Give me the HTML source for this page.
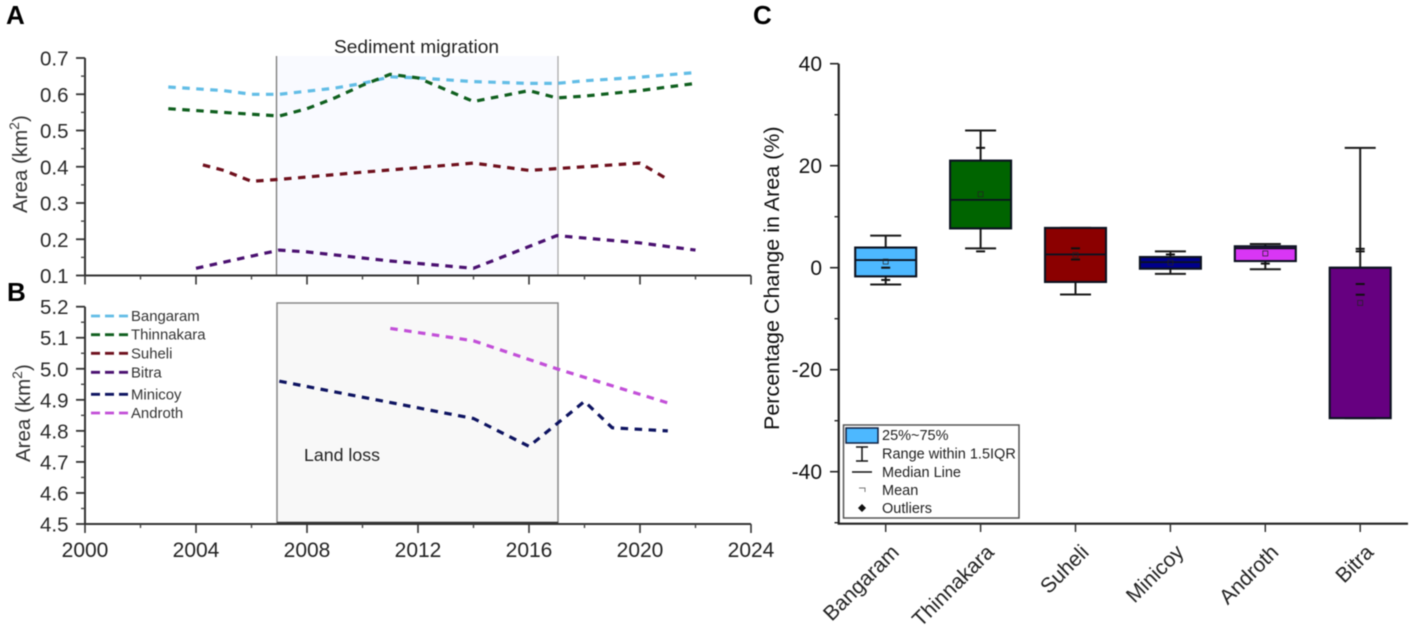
<!DOCTYPE html>
<html lang="en">
<head>
<meta charset="utf-8">
<title>Island area trends and percentage change</title>
<style>
html,body{margin:0;padding:0;background:#fff;width:1417px;height:634px;overflow:hidden}
svg{display:block;filter:blur(0.55px)}
text{font-family:"Liberation Sans",sans-serif}
</style>
</head>
<body>
<svg id="fig" xmlns="http://www.w3.org/2000/svg" width="1417" height="634" viewBox="0 0 1417 634">
  <rect x="277" y="56" width="281" height="219" fill="#f9faff"/>
  <rect x="277" y="303" width="281" height="220" fill="#f8f8f8" stroke="#888" stroke-width="1.5"/>
  <line x1="276.5" x2="276.5" y1="56" y2="275" stroke="#777" stroke-width="1.3"/>
  <line x1="558" x2="558" y1="56" y2="275" stroke="#aaa" stroke-width="1.3"/>
  <line x1="277" x2="558" y1="522.5" y2="522.5" stroke="#333" stroke-width="1.5"/>
  <text x="6" y="24" font-size="26" font-weight="700" fill="#000">A</text>
  <text x="7" y="301" font-size="26" font-weight="700" fill="#000">B</text>
  <text x="753" y="24" font-size="26" font-weight="700" fill="#000">C</text>
  <text x="334" y="53" font-size="18" textLength="165" lengthAdjust="spacingAndGlyphs" fill="#222">Sediment migration</text>
  <text x="304" y="461" font-size="17.5" textLength="76" lengthAdjust="spacingAndGlyphs" fill="#222">Land loss</text>
  <text transform="translate(27,213) rotate(-90)" font-size="20.5" fill="#333">Area (km<tspan dy="-8" font-size="14">2</tspan><tspan dy="8">)</tspan></text>
  <text transform="translate(30,462) rotate(-90)" font-size="20.5" fill="#333">Area (km<tspan dy="-8" font-size="14">2</tspan><tspan dy="8">)</tspan></text>
  <text transform="translate(779,430) rotate(-90)" font-size="21.5" fill="#111">Percentage Change in Area (%)</text>
  <g id="panelA"></g>
  <g id="panelB"></g>
  <g id="legendB"></g>
  <g id="panelC"></g>
  <g>
    <rect x="843.5" y="425" width="175.5" height="93" fill="#fff" stroke="#555" stroke-width="1.5"/>
    <rect x="846" y="428" width="32" height="15" fill="#4db8ff" stroke="#102040" stroke-width="1.5"/>
    <text x="882" y="440" font-size="14.5" fill="#222">25%~75%</text>
    <path d="M856 447H868M862 447V461M856 461H868" stroke="#111" stroke-width="1.5" fill="none"/>
    <text x="882" y="458.5" font-size="14.5" fill="#222">Range within 1.5IQR</text>
    <line x1="852" x2="872" y1="472" y2="472" stroke="#111" stroke-width="1.6"/>
    <text x="882" y="477" font-size="14.5" fill="#222">Median Line</text>
    <path d="M859 488H865V492" stroke="#777" stroke-width="1" fill="none"/>
    <text x="882" y="495" font-size="14.5" fill="#222">Mean</text>
    <path d="M862 504L866 508L862 512L858 508Z" fill="#111"/>
    <text x="882" y="513" font-size="14.5" fill="#222">Outliers</text>
  </g>
</svg>
<script>
// Panel A / B shared x axis
const xTickLabels = ['2000', '2004', '2008', '2012', '2016', '2020', '2024'];
const xMinorYears = [2002, 2006, 2010, 2014, 2018, 2022];

// Panel A
const aTickLabels = ['0.1', '0.2', '0.3', '0.4', '0.5', '0.6', '0.7'];
const bangaramYears = [2003, 2005, 2006, 2007, 2009, 2010, 2011, 2012, 2014, 2016, 2017, 2018, 2020, 2022];
const bangaramArea = [0.62, 0.61, 0.60, 0.60, 0.617, 0.63, 0.648, 0.645, 0.635, 0.63, 0.63, 0.637, 0.647, 0.66];
const thinnakaraYears = [2003, 2005, 2007, 2008, 2009, 2010, 2011, 2012, 2014, 2016, 2017, 2018, 2020, 2022];
const thinnakaraArea = [0.56, 0.55, 0.54, 0.56, 0.59, 0.625, 0.655, 0.645, 0.58, 0.61, 0.59, 0.595, 0.61, 0.63];
const suheliYears = [2004.25, 2005, 2006, 2007, 2010, 2014, 2016, 2017, 2020, 2021];
const suheliArea = [0.405, 0.39, 0.36, 0.365, 0.385, 0.41, 0.39, 0.395, 0.41, 0.365];
const bitraYears = [2004, 2007, 2008, 2011, 2014, 2015, 2016, 2017, 2020, 2022];
const bitraArea = [0.12, 0.17, 0.165, 0.14, 0.12, 0.15, 0.18, 0.21, 0.19, 0.17];

// Panel B
const bTickLabels = ['4.5', '4.6', '4.7', '4.8', '4.9', '5.0', '5.1', '5.2'];
const minicoyYears = [2007, 2014, 2016, 2018, 2019, 2021];
const minicoyArea = [4.96, 4.84, 4.75, 4.895, 4.81, 4.80];
const androthYears = [2011, 2014, 2017, 2021];
const androthArea = [5.13, 5.09, 5.00, 4.89];
const legendLabels = ['Bangaram', 'Thinnakara', 'Suheli', 'Bitra', 'Minicoy', 'Androth'];

// Panel C
const boxCategories = ['Bangaram', 'Thinnakara', 'Suheli', 'Minicoy', 'Androth', 'Bitra'];
const cTickLabels = ['-40', '-20', '0', '20', '40'];
const boxQ1 = [-1.7, 7.7, -2.8, -0.2, 1.3, -29.5];
const boxQ3 = [3.95, 21, 7.8, 2.1, 4.2, 0];
const boxMedian = [1.5, 13.3, 2.6, 1.1, 3.8, 0];
const whiskerLow = [-3.3, 3.8, -5.25, -1.2, -0.3, -29.5];
const whiskerHigh = [6.3, 26.9, 7.8, 3.2, 4.65, 23.5];
const boxMean = [1.2, 14.4, 2.5, 1.0, 2.8, -6.9];
const boxOutliers = [[0, -2.4], [23.5, 3.2], [3.8, 1.6], [2.6], [0.8], [3.7, 3.2, -3.2, -5.3]];

const SVGNS = 'http://www.w3.org/2000/svg';
const lineColors = ['#62bde6', '#0f5f1e', '#6e0f1c', '#4a1070', '#0d1360', '#c24fd8'];
const boxColors = ['#4db8ff', '#006400', '#8b0000', '#00008b', '#d936f5', '#660080'];

function mk(parent, tag, attrs, txt) {
  const el = document.createElementNS(SVGNS, tag);
  for (const k in attrs) el.setAttribute(k, attrs[k]);
  if (txt !== undefined) el.textContent = txt;
  parent.appendChild(el);
  return el;
}

const xScale = yr => 85 + (yr - 2000) * (751 - 85) / 24;
const yA = v => 275.5 - (v - 0.1) * (275.5 - 58) / 0.6;
const yB = v => 524 - (v - 4.5) * (524 - 306.7) / 0.7;
const yC = v => 267.7 - v * 5.1;
const xC = i => 885.7 + i * 94.9;

function drawLineAxes(g, yScale, labels, step, showXLabels, name) {
  const axisY = yScale(parseFloat(labels[0]));
  const topY = yScale(parseFloat(labels[labels.length - 1]));
  const axis = mk(g, 'path', {d: 'M85 ' + topY + 'V' + axisY + 'H' + xScale(2024), fill: 'none', stroke: '#333', 'stroke-width': 2});
  
  
  labels.forEach(function (lab, i) {
    const v = parseFloat(lab);
    const y = yScale(v);
    const t = mk(g, 'line', {x1: 76, x2: 85, y1: y, y2: y, stroke: '#333', 'stroke-width': 1.8});
    
    
    const tx = mk(g, 'text', {x: 68.5, y: y + 7.5, 'text-anchor': 'end', 'font-size': 20.5, fill: '#2a2a2a'}, lab);
    
    
    if (i < labels.length - 1) {
      const my = yScale(v + step / 2);
      const m = mk(g, 'line', {x1: 81, x2: 85, y1: my, y2: my, stroke: '#444', 'stroke-width': 1.4});
      
      
    }
  });
  xTickLabels.forEach(function (lab) {
    const x = xScale(parseFloat(lab));
    const t = mk(g, 'line', {x1: x, x2: x, y1: axisY, y2: axisY + 9, stroke: '#333', 'stroke-width': 1.6});
    
    
    if (showXLabels) {
      const tx = mk(g, 'text', {x: x, y: 557, 'text-anchor': 'middle', 'font-size': 21, fill: '#222'}, lab);
      
      
    }
  });
  xMinorYears.forEach(function (yr) {
    const x = xScale(yr);
    const m = mk(g, 'line', {x1: x, x2: x, y1: axisY, y2: axisY + 4, stroke: '#444', 'stroke-width': 1.4});
    
    
  });
}

function drawSeries(g, years, values, yScale, color, name) {
  const pts = years.map(function (yr, i) { return xScale(yr).toFixed(1) + ',' + yScale(values[i]).toFixed(1); }).join(' ');
  const p = mk(g, 'polyline', {points: pts, fill: 'none', stroke: color, 'stroke-width': 3.2, 'stroke-dasharray': '7.5 6.5', 'stroke-linejoin': 'round'});
  
  
}

const gA = document.getElementById('panelA');
const gB = document.getElementById('panelB');
drawLineAxes(gA, yA, aTickLabels, 0.1, false, 'panel-a');
drawLineAxes(gB, yB, bTickLabels, 0.1, true, 'panel-b');
drawSeries(gA, bangaramYears, bangaramArea, yA, lineColors[0], 'line-bangaram');
drawSeries(gA, thinnakaraYears, thinnakaraArea, yA, lineColors[1], 'line-thinnakara');
drawSeries(gA, suheliYears, suheliArea, yA, lineColors[2], 'line-suheli');
drawSeries(gA, bitraYears, bitraArea, yA, lineColors[3], 'line-bitra');
drawSeries(gB, minicoyYears, minicoyArea, yB, lineColors[4], 'line-minicoy');
drawSeries(gB, androthYears, androthArea, yB, lineColors[5], 'line-androth');

// Line legend
const legendG = document.getElementById('legendB');
const legendRows = [316, 334.7, 353.3, 372.3, 394.3, 413];
legendLabels.forEach(function (lab, i) {
  const y = legendRows[i];
  const l = mk(legendG, 'line', {x1: 91, x2: 128, y1: y, y2: y, stroke: lineColors[i], 'stroke-width': 2.8, 'stroke-dasharray': '9 5'});
  
  
  const t = mk(legendG, 'text', {x: 131, y: y + 5, 'font-size': 14.9, fill: '#333'}, lab);
  
  
});

// Panel C
const gC = document.getElementById('panelC');
const cAxis = mk(gC, 'path', {d: 'M838.7 ' + yC(40) + 'V523.7H1408', fill: 'none', stroke: '#222', 'stroke-width': 2.2});


cTickLabels.forEach(function (lab) {
  const v = parseFloat(lab);
  const y = yC(v);
  const t = mk(gC, 'line', {x1: 830, x2: 838.7, y1: y, y2: y, stroke: '#222', 'stroke-width': 1.6});
  
  
  const tx = mk(gC, 'text', {x: 822, y: y + 7.5, 'text-anchor': 'end', 'font-size': 21, fill: '#111'}, lab);
  
  
  const mv = v - 10;
  const m = mk(gC, 'line', {x1: 834.5, x2: 838.7, y1: yC(mv), y2: yC(mv), stroke: '#222', 'stroke-width': 1.4});
  
  
});
const cTop = mk(gC, 'line', {x1: 834.5, x2: 838.7, y1: yC(30), y2: yC(30), stroke: '#222', 'stroke-width': 1.4});



boxCategories.forEach(function (cat, i) {
  const x = xC(i);
  const slug = cat.toLowerCase();
  const hw = 30.5;
  const capW = 15.5;
  const tick = mk(gC, 'line', {x1: x, x2: x, y1: 523.7, y2: 532, stroke: '#333', 'stroke-width': 1.5});
  
  
  const lab = mk(gC, 'text', {transform: 'translate(' + (x + 14.5) + ',553.5) rotate(-45)', 'text-anchor': 'end', 'font-size': 21, fill: '#222'}, cat);
  
  

  const w = mk(gC, 'path', {d: 'M' + (x - capW) + ' ' + yC(whiskerHigh[i]) + 'H' + (x + capW) + 'M' + x + ' ' + yC(whiskerHigh[i]) + 'V' + yC(whiskerLow[i]) + 'M' + (x - capW) + ' ' + yC(whiskerLow[i]) + 'H' + (x + capW), fill: 'none', stroke: '#1a1a1a', 'stroke-width': 2});
  
  

  const b = mk(gC, 'rect', {x: x - hw, y: yC(boxQ3[i]), width: hw * 2, height: yC(boxQ1[i]) - yC(boxQ3[i]), fill: boxColors[i], stroke: '#0c1220', 'stroke-width': 2.1});
  
  

  const med = mk(gC, 'line', {x1: x - hw, x2: x + hw, y1: yC(boxMedian[i]), y2: yC(boxMedian[i]), stroke: '#0c1220', 'stroke-width': 1.8});
  
  

  const mean = mk(gC, 'rect', {x: x - 2.5, y: yC(boxMean[i]) - 2.5, width: 5, height: 5, fill: 'none', stroke: '#222', 'stroke-width': 0.7});
  
  

  boxOutliers[i].forEach(function (v) {
    const o = mk(gC, 'rect', {x: x - 4.5, y: yC(v) - 1, width: 9, height: 2, fill: '#111'});
    
    
  });
});
</script>
</body>
</html>
